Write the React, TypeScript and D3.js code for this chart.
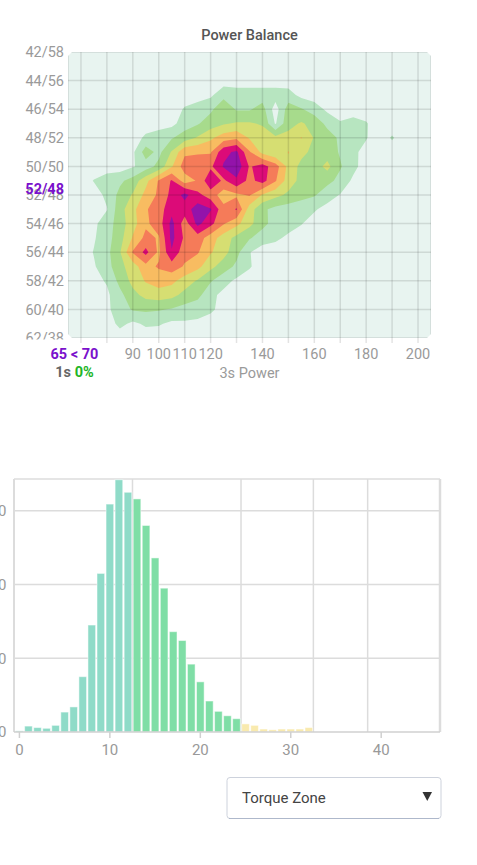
import { useEffect, useRef } from 'react';
import * as d3 from 'd3';

const WIDTH = 477;
const HEIGHT = 865;

// Power balance density: rows = left balance 42..62 (step 1), cols = 3s power 65..205 (step 5)
const POWER_START = 65;
const POWER_STEP = 5;
const BALANCE_START = 42;
const BALANCE_STEP = 1;

const balanceDensity: number[][] = [
  [0, 0, 0, 0, 0, 0, 0, 0, 0, 0, 0, 0, 0, 0, 0, 0, 0, 0, 0, 0, 0, 0, 0, 0, 0, 0, 0, 0, 0],
  [0, 0, 0, 0, 0, 0, 0, 0, 0, 0, 0, 0, 0, 0, 0, 0, 0, 0, 0, 0, 0, 0, 0, 0, 0, 0, 0, 0, 0],
  [0, 0, 0, 0, 0, 0, 0, 0, 0, 0, 0, 0, 0, 0, 0, 0, 0, 0, 0, 0, 0, 0, 0, 0, 0, 0, 0, 0, 0],
  [0, 0, 0, 0, 0, 0, 0, 0, 0, 0, 0, 0.3, 1.2, 1, 1, 1, 1, 0.9, 0.2, 0, 0, 0, 0, 0, 0, 0, 0, 0, 0],
  [0, 0, 0, 0, 0, 0, 0, 0, 0, 0.6, 1, 1.3, 2.2, 1.4, 1.4, 1.9, 0, 2, 1.6, 1, 0.3, 0, 0, 0, 0, 0, 0, 0, 0],
  [0, 0, 0, 0, 0, 0, 0, 0, 0.2, 1, 1.4, 2, 2.4, 2.6, 2.6, 2.4, 0.4, 2.2, 2.6, 2.2, 1.2, 0.6, 0.9, 0.58, 0, 0, 0, 0, 0],
  [0, 0, 0, 0, 0, 0, 0.7, 1.1, 1.4, 2, 2.6, 3.3, 4, 4.3, 3.4, 3, 2.8, 2.8, 3.55, 2.4, 2, 1.3, 0.8, 0.56, 0, 0.6, 0, 0, 0],
  [0, 0, 0, 0, 0, 0.3, 2, 1.2, 2.6, 4.3, 4.4, 4.4, 6.2, 6.7, 4.6, 3.2, 2.6, 3.55, 2.8, 2.2, 2, 1.4, 0.7, 0.2, 0, 0, 0, 0, 0],
  [0, 0, 0, 0, 0, 0.4, 1, 1.8, 3.4, 5, 5, 5.3, 6.6, 7.2, 5.4, 5.9, 5, 3.2, 2.2, 2, 2.8, 1.6, 0.8, 0, 0, 0, 0, 0, 0],
  [0, 0, 0.55, 1, 1.3, 1.9, 3.2, 4.6, 5.6, 4, 4.6, 6.3, 5.3, 6.3, 5.2, 5.9, 4.6, 3, 2.2, 2, 1.8, 1.2, 0.3, 0, 0, 0, 0, 0, 0],
  [0, 0, 0.1, 0.7, 1.8, 2.6, 3.8, 4.7, 5.8, 6.8, 5.8, 5, 4, 4.3, 4.6, 3.4, 2.8, 2.3, 1.9, 1.6, 0.9, 0.45, 0, 0, 0, 0, 0, 0, 0],
  [0, 0, 0, 0.45, 2.1, 3.2, 4.4, 5, 6.2, 6, 7, 6.6, 4.8, 5.6, 3, 1.7, 1.2, 1, 0.8, 0.6, 0.2, 0, 0, 0, 0, 0, 0, 0, 0],
  [0, 0, 0.3, 1, 2, 3.1, 4.3, 5, 6.8, 5, 6.8, 5.8, 4.6, 3.8, 2.8, 1.8, 1.1, 0.9, 0.55, 0.1, 0, 0, 0, 0, 0, 0, 0, 0, 0],
  [0, 0, 0.4, 1.1, 2.1, 3.6, 4.8, 4.4, 6.8, 5.3, 5, 4, 3, 2.2, 1.6, 1, 0.7, 0.3, 0, 0, 0, 0, 0, 0, 0, 0, 0, 0, 0],
  [0, 0, 0.55, 1.2, 2.4, 4.6, 5.8, 4.3, 6.4, 4.8, 4.6, 3.6, 2.9, 1.8, 0.55, 0, 0, 0, 0, 0, 0, 0, 0, 0, 0, 0, 0, 0, 0],
  [0, 0, 0.4, 1.1, 2.2, 3, 4.2, 4.6, 5, 4.4, 3.8, 2.8, 2, 1.3, 0.6, 0, 0, 0, 0, 0, 0, 0, 0, 0, 0, 0, 0, 0, 0],
  [0, 0, 0.2, 0.6, 1.8, 2.8, 3.6, 4, 3.8, 3, 2.4, 1.6, 0.9, 0.3, 0, 0, 0, 0, 0, 0, 0, 0, 0, 0, 0, 0, 0, 0, 0],
  [0, 0, 0, 0.3, 1.2, 2.2, 2.8, 3, 2.8, 2.2, 1.8, 0.8, 0.2, 0, 0, 0, 0, 0, 0, 0, 0, 0, 0, 0, 0, 0, 0, 0, 0],
  [0, 0, 0, 0.3, 1, 1.6, 1.7, 1.6, 1.4, 1.1, 0.9, 0.7, 0.1, 0, 0, 0, 0, 0, 0, 0, 0, 0, 0, 0, 0, 0, 0, 0, 0],
  [0, 0, 0, 0, 0.75, 0.3, 0.65, 0.6, 0.3, 0.35, 0.3, 0, 0, 0, 0, 0, 0, 0, 0, 0, 0, 0, 0, 0, 0, 0, 0, 0, 0],
  [0, 0, 0, 0, 0, 0, 0, 0, 0, 0, 0, 0, 0, 0, 0, 0, 0, 0, 0, 0, 0, 0, 0, 0, 0, 0, 0, 0, 0],
];

const densityThresholds = [0.5, 1.5, 2.5, 3.5, 4.5, 5.5, 6.5];
const densityColors = ['#b7e5c0', '#a7db8c', '#d6de72', '#f8bc61', '#f57b59', '#dc0b78', '#9313aa'];

const powerGrid = [70, 80, 90, 100, 110, 120, 130, 140, 150, 160, 170, 180, 190, 200];
const powerLabels = [90, 100, 110, 120, 140, 160, 180, 200];
const balanceTicks = [42, 44, 46, 48, 50, 52, 54, 56, 58, 60, 62];
const balanceLabels = ['42/58', '44/56', '46/54', '48/52', '50/50', '52/48', '54/46', '56/44', '58/42', '60/40', '62/38'];
const currentBalance = '52/48';

// Torque histogram
const torqueBins = [0, 1, 2, 3, 4, 5, 6, 7, 8, 9, 10, 11, 12, 13, 14, 15, 16, 17, 18, 19, 20, 21, 22, 23, 24, 25, 26, 27, 28, 29, 30, 31, 32];
const torqueCounts = [1.5, 8, 6, 5, 9, 27, 34, 75, 145, 215, 309, 342, 325, 316, 280, 236, 195, 136, 124, 92, 68, 42, 28, 22, 18, 11, 9, 4, 3, 4, 4, 4, 6];
const zoneEdges = [12.5, 24.5, 32.5, 38.5];
const zoneColors = ['#8fdbc8', '#7fdea6', '#f9eaae'];
const torqueTicks = [0, 10, 20, 30, 40];
const countTicks = [0, 100, 200, 300];

export default function App() {
  const svgRef = useRef<SVGSVGElement>(null);

  useEffect(() => {
    const svg = d3.select(svgRef.current);
    svg.selectAll('*').remove();

    // ---------- Power Balance contour ----------
    const left = 68, right = 431, top = 52, bottom = 338;
    const x = d3.scaleLinear().domain([65, 205]).range([left, right]);
    const y = d3.scaleLinear().domain([42, 62]).range([top, bottom]);

    svg.append('text')
      .attr('x', 249.5).attr('y', 40)
      .attr('text-anchor', 'middle')
      .attr('font-size', 14.5).attr('font-weight', 500)
      .attr('fill', '#555')
      .text('Power Balance');

    // plot area has its corners clipped off
    const cut = 4;
    const corners: [number, number][] = [
      [left + cut, top], [right - cut, top], [right, top + cut], [right, bottom - cut],
      [right - cut, bottom], [left + cut, bottom], [left, bottom - cut], [left, top + cut],
    ];
    const defs = svg.append('defs');
    defs.append('clipPath').attr('id', 'plot-clip')
      .append('polygon').attr('points', corners.map(p => p.join(',')).join(' '));
    defs.append('clipPath').attr('id', 'label-clip')
      .append('rect').attr('x', 0).attr('y', 0).attr('width', left).attr('height', 339.5);

    const plot = svg.append('g');
    const inner = plot.append('g').attr('clip-path', 'url(#plot-clip)');
    inner.append('rect')
      .attr('x', left).attr('y', top).attr('width', right - left).attr('height', bottom - top)
      .attr('fill', '#e8f4f0');

    const nx = balanceDensity[0].length;
    const ny = balanceDensity.length;
    const contours = d3.contours().size([nx, ny]).thresholds(densityThresholds)(balanceDensity.flat());
    const proj = d3.geoTransform({
      point(px: number, py: number) {
        this.stream.point(
          x(POWER_START + (px - 0.5) * POWER_STEP),
          y(BALANCE_START + (py - 0.5) * BALANCE_STEP),
        );
      },
    });
    const path = d3.geoPath(proj);

    inner.append('g')
      .selectAll('path')
      .data(contours)
      .join('path')
      .attr('d', d => path(d as any) ?? '')
      .attr('fill', (_, i) => densityColors[i]);

    // grid on top of the contours
    const grid = inner.append('g').attr('stroke', '#000').attr('stroke-opacity', 0.11).attr('stroke-width', 1.5);
    grid.selectAll('line.v')
      .data(powerGrid)
      .join('line')
      .attr('class', 'v')
      .attr('x1', d => x(d)).attr('x2', d => x(d))
      .attr('y1', top).attr('y2', bottom);
    grid.selectAll('line.h')
      .data(balanceTicks)
      .join('line')
      .attr('class', 'h')
      .attr('x1', left).attr('x2', right)
      .attr('y1', d => y(d)).attr('y2', d => y(d));
    grid.append('line').attr('x1', left).attr('x2', left).attr('y1', top).attr('y2', bottom);
    grid.append('line').attr('x1', right).attr('x2', right).attr('y1', top).attr('y2', bottom);

    // tick stubs below the plot
    plot.append('g')
      .selectAll('line')
      .data(powerGrid)
      .join('line')
      .attr('x1', d => x(d)).attr('x2', d => x(d))
      .attr('y1', bottom).attr('y2', bottom + 5)
      .attr('stroke', '#000').attr('stroke-opacity', 0.11).attr('stroke-width', 1.5);

    const yLabels = svg.append('g').attr('clip-path', 'url(#label-clip)');
    yLabels.selectAll('text')
      .data(balanceTicks)
      .join('text')
      .attr('x', 64)
      .attr('y', d => y(d))
      .attr('dy', '0.36em')
      .attr('text-anchor', 'end')
      .attr('font-size', 14.5)
      .attr('fill', '#9a9a9a')
      .text((_, i) => balanceLabels[i]);

    const curIdx = balanceLabels.indexOf(currentBalance);
    svg.append('text')
      .attr('x', 64)
      .attr('y', y(balanceTicks[curIdx]) - 6)
      .attr('dy', '0.36em')
      .attr('text-anchor', 'end')
      .attr('font-size', 14.5)
      .attr('font-weight', 700)
      .attr('fill', '#7a10cc')
      .text(currentBalance);

    svg.append('g')
      .selectAll('text')
      .data(powerLabels)
      .join('text')
      .attr('x', d => x(d))
      .attr('y', 354)
      .attr('dy', '0.36em')
      .attr('text-anchor', 'middle')
      .attr('font-size', 14.5)
      .attr('fill', '#9a9a9a')
      .text(d => d);

    svg.append('text')
      .attr('x', 249.5).attr('y', 373)
      .attr('dy', '0.36em')
      .attr('text-anchor', 'middle')
      .attr('font-size', 14.5)
      .attr('fill', '#9a9a9a')
      .text('3s Power');

    svg.append('text')
      .attr('x', 74.5).attr('y', 354)
      .attr('dy', '0.36em')
      .attr('text-anchor', 'middle')
      .attr('font-size', 14.5).attr('font-weight', 700)
      .attr('fill', '#7a10cc')
      .text('65 < 70');

    const share = svg.append('text')
      .attr('x', 74.5).attr('y', 372)
      .attr('dy', '0.36em')
      .attr('text-anchor', 'middle')
      .attr('font-size', 14.5).attr('font-weight', 700);
    share.append('tspan').attr('fill', '#666').text('1s ');
    share.append('tspan').attr('fill', '#22b527').text('0%');

    // ---------- Torque histogram ----------
    const hl = 14, hr = 440, ht = 479, hb = 732;
    const hx = d3.scaleLinear().domain([-0.6, 46.5]).range([hl, hr]);
    const hy = d3.scaleLinear().domain([0, 343]).range([hb, ht]);
    const zone = d3.scaleThreshold<number, string>().domain(zoneEdges).range([...zoneColors, '#ddd', '#ddd']);

    const hist = svg.append('g');
    const hgrid = hist.append('g').attr('stroke', '#dcdcdc').attr('stroke-width', 1.5);
    hgrid.selectAll('line.h')
      .data(countTicks.slice(1))
      .join('line')
      .attr('class', 'h')
      .attr('x1', hl).attr('x2', hr)
      .attr('y1', d => hy(d)).attr('y2', d => hy(d));
    hgrid.selectAll('line.v')
      .data(zoneEdges)
      .join('line')
      .attr('class', 'v')
      .attr('x1', d => hx(d)).attr('x2', d => hx(d))
      .attr('y1', ht).attr('y2', hb);
    hgrid.append('line').attr('x1', hl).attr('x2', hr).attr('y1', ht).attr('y2', ht);
    hgrid.append('line').attr('x1', hl).attr('x2', hl).attr('y1', ht).attr('y2', hb).attr('stroke-width', 2);
    hgrid.append('line').attr('x1', hr).attr('x2', hr).attr('y1', ht).attr('y2', hb).attr('stroke-width', 2.5);

    hist.append('g')
      .selectAll('rect')
      .data(torqueBins)
      .join('rect')
      .attr('x', d => hx(d - 0.5) + 0.7)
      .attr('width', d => hx(d + 0.5) - hx(d - 0.5) - 1.4)
      .attr('y', (_, i) => hy(torqueCounts[i]))
      .attr('height', (_, i) => hb - hy(torqueCounts[i]))
      .attr('fill', d => zone(d))
      .attr('stroke', 'rgba(255,255,255,0.5)')
      .attr('stroke-width', 1);

    hist.append('line')
      .attr('x1', hl).attr('x2', hr).attr('y1', hb).attr('y2', hb)
      .attr('stroke', '#d0d0d0').attr('stroke-width', 1.5);

    hist.append('g')
      .selectAll('line')
      .data(torqueTicks)
      .join('line')
      .attr('x1', d => hx(d)).attr('x2', d => hx(d))
      .attr('y1', hb).attr('y2', hb + 6)
      .attr('stroke', '#d0d0d0').attr('stroke-width', 1.5);

    hist.append('g')
      .selectAll('text')
      .data(torqueTicks)
      .join('text')
      .attr('x', d => hx(d))
      .attr('y', 750)
      .attr('dy', '0.36em')
      .attr('text-anchor', 'middle')
      .attr('font-size', 15)
      .attr('fill', '#999')
      .text(d => d);

    hist.append('g')
      .selectAll('text')
      .data(countTicks)
      .join('text')
      .attr('x', 6.5)
      .attr('y', d => hy(d))
      .attr('dy', '0.36em')
      .attr('text-anchor', 'end')
      .attr('font-size', 15)
      .attr('fill', '#999')
      .text(d => d);

    // ---------- Zone selector ----------
    const sel = svg.append('g');
    sel.append('rect')
      .attr('x', 227).attr('y', 777.5).attr('width', 214).attr('height', 41).attr('rx', 3)
      .attr('fill', '#fff').attr('stroke', '#cdd2dc').attr('stroke-width', 1);
    sel.append('line')
      .attr('x1', 229).attr('x2', 439).attr('y1', 818.5).attr('y2', 818.5)
      .attr('stroke', '#aeb8cb').attr('stroke-width', 1);
    sel.append('text')
      .attr('x', 242).attr('y', 798)
      .attr('dy', '0.36em')
      .attr('font-size', 15)
      .attr('fill', '#444')
      .text('Torque Zone');
    sel.append('path')
      .attr('d', 'M422.5,792 L432,792 L427.25,801 Z')
      .attr('fill', '#333');
  }, []);

  return (
    <svg
      ref={svgRef}
      width={WIDTH}
      height={HEIGHT}
      style={{ position: 'absolute', left: 0, top: 0, fontFamily: 'Roboto, sans-serif' }}
    />
  );
}
